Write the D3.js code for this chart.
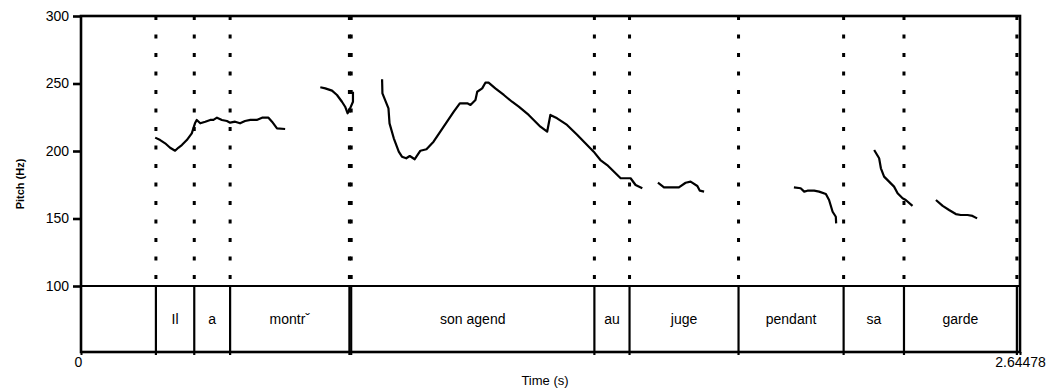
<!DOCTYPE html>
<html>
<head>
<meta charset="utf-8">
<script src="https://cdn.jsdelivr.net/npm/d3@7"></script>
<style>
  body{margin:0;background:#fff;}
  text{font-family:"Liberation Sans",Arial,sans-serif;}
</style>
</head>
<body>
<svg id="chart"></svg>
<script>
// time of the end of the sound (s)
var tMax = 2.64478;
var pitchTicks = [100,150,200,250,300];
var timeTicks = [0, tMax];

// word boundaries (s) and the words between them
var boundaries = [0.211,0.319,0.420,0.756,0.761,1.446,1.545,1.852,2.148,2.318,2.636];
var words = ["","Il","a","montr\u02c7","","son agend","au","juge","pendant","sa","garde",""];

// pitch track pieces: [time (s), pitch (Hz)]
var pitchIlA = [[0.209,209.9],[0.223,208.1],[0.237,205.7],[0.251,202.4],[0.265,200.2],[0.274,202.4],[0.284,204.4],[0.298,208.1],[0.312,213.1],[0.321,220.5],[0.326,223.0],[0.336,220.5],[0.350,221.7],[0.364,223.0],[0.373,223.0],[0.383,224.7],[0.397,223.0],[0.411,222.2],[0.420,221.0],[0.434,221.7],[0.448,220.5],[0.462,222.2],[0.477,223.0],[0.495,223.0],[0.510,224.7],[0.528,224.7],[0.538,221.7],[0.552,216.8],[0.575,216.3]];
var pitchMontre = [[0.674,247.2],[0.688,246.4],[0.707,244.7],[0.721,241.5],[0.735,236.5],[0.744,232.8],[0.751,227.9],[0.758,231.6],[0.766,236.5],[0.766,243.9]];
var pitchAgenda = [[0.848,253.1],[0.849,242.7],[0.866,231.6],[0.869,220.5],[0.881,209.4],[0.895,199.5],[0.904,195.8],[0.916,194.6],[0.926,196.3],[0.940,193.9],[0.956,200.2],[0.973,201.3],[0.993,206.9],[1.012,214.3],[1.031,221.7],[1.050,229.1],[1.067,235.3],[1.088,235.3],[1.097,234.1],[1.111,237.8],[1.116,243.9],[1.130,246.4],[1.139,250.6],[1.148,250.6],[1.167,246.4],[1.191,241.5],[1.214,236.5],[1.233,232.8],[1.261,226.7],[1.294,218.0],[1.313,214.3],[1.322,226.7],[1.341,224.2],[1.369,219.3],[1.398,211.9],[1.444,199.5],[1.463,193.3],[1.482,189.6],[1.520,179.8],[1.548,179.8],[1.562,174.8],[1.581,172.4]];
var pitchJuge = [[1.625,176.5],[1.642,173.1],[1.684,173.1],[1.703,176.5],[1.717,177.3],[1.736,174.1],[1.743,170.6],[1.755,169.9]];
var pitchPendant = [[2.008,173.1],[2.027,172.4],[2.037,169.9],[2.046,170.6],[2.065,170.6],[2.079,169.9],[2.098,168.1],[2.107,163.7],[2.117,155.0],[2.126,151.3],[2.127,146.4]];
var pitchSa = [[2.234,200.7],[2.248,194.6],[2.253,187.2],[2.262,181.0],[2.276,177.3],[2.290,173.6],[2.300,168.7],[2.314,165.0],[2.323,163.7],[2.342,159.3]];
var pitchGarde = [[2.408,163.7],[2.427,159.3],[2.445,156.3],[2.464,153.3],[2.478,152.6],[2.497,152.6],[2.511,151.9],[2.524,150.1]];

var width = 1050, height = 389;
var margin = {top:16, left:81, right:30, tier:66};
var plotBottom = 286;               // y of 100 Hz
var tierBottom = plotBottom + margin.tier;

var svg = d3.select("#chart").attr("width",width).attr("height",height);

var xScale = d3.scaleLinear().domain([0,tMax]).range([margin.left,width-margin.right]);
var yScale = d3.scaleLinear().domain([100,300]).range([plotBottom,margin.top]);

// dotted word boundaries over the pitch area
svg.append("g").selectAll("line")
  .data(boundaries)
  .enter().append("line")
  .attr("x1",function(d){return xScale(d);})
  .attr("x2",function(d){return xScale(d);})
  .attr("y1",margin.top)
  .attr("y2",plotBottom)
  .attr("stroke","#000")
  .attr("stroke-width",3)
  .attr("stroke-dasharray","4,14.5");

// tier boundaries
svg.append("g").selectAll("line")
  .data(boundaries)
  .enter().append("line")
  .attr("x1",function(d){return xScale(d);})
  .attr("x2",function(d){return xScale(d);})
  .attr("y1",plotBottom)
  .attr("y2",tierBottom+3)
  .attr("stroke","#000")
  .attr("stroke-width",2.2);

// words
var edges = [0].concat(boundaries).concat([tMax]);
svg.append("g").selectAll("text")
  .data(words)
  .enter().append("text")
  .attr("x",function(d,i){return (xScale(edges[i])+xScale(edges[i+1]))/2;})
  .attr("y",(plotBottom+tierBottom)/2)
  .attr("dy","0.35em")
  .attr("text-anchor","middle")
  .style("font-size","14px")
  .text(function(d){return d;});

// frame
svg.append("rect")
  .attr("x",margin.left).attr("y",margin.top)
  .attr("width",xScale(tMax)-margin.left)
  .attr("height",tierBottom-margin.top)
  .attr("fill","none").attr("stroke","#000").attr("stroke-width",2.6);
svg.append("line")
  .attr("x1",margin.left).attr("x2",xScale(tMax))
  .attr("y1",plotBottom).attr("y2",plotBottom)
  .attr("stroke","#000").attr("stroke-width",2.2);

// pitch track
var lineMaker = d3.line()
  .x(function(d){return xScale(d[0]);})
  .y(function(d){return yScale(d[1]);});
[pitchIlA,pitchMontre,pitchAgenda,pitchJuge,pitchPendant,pitchSa,pitchGarde].forEach(function(piece){
  svg.append("path")
    .attr("d",lineMaker(piece))
    .attr("fill","none")
    .attr("stroke","#000")
    .attr("stroke-width",2.2)
    .attr("stroke-linejoin","round");
});

// axes
var yAxis = d3.axisLeft(yScale).tickValues(pitchTicks).tickSize(8).tickPadding(4);
var gy = svg.append("g").attr("transform","translate("+margin.left+",0)").call(yAxis);
gy.select(".domain").remove();
gy.selectAll(".tick line").attr("stroke-width",2.6);
gy.selectAll("text").style("font-size","14px").attr("fill","#000").attr("font-family",null);

var xAxis = d3.axisBottom(xScale).tickValues(timeTicks).tickSize(3).tickPadding(2)
  .tickFormat(function(d){return d===0?"0":String(d);});
var gx = svg.append("g").attr("transform","translate(0,"+tierBottom+")").call(xAxis);
gx.select(".domain").remove();
gx.selectAll(".tick line").attr("stroke-width",2);
gx.selectAll("text").style("font-size","14px").attr("fill","#000").attr("font-family",null);
gx.selectAll(".tick").filter(function(d){return d===0;}).select("text").attr("dx",-3);

svg.append("text")
  .attr("x",545).attr("y",385)
  .attr("text-anchor","middle")
  .style("font-size","13px")
  .text("Time (s)");

svg.append("text")
  .attr("transform","translate(24,184) rotate(-90)")
  .attr("text-anchor","middle")
  .style("font-size","11px")
  .style("font-weight","bold")
  .text("Pitch (Hz)");
</script>
</body>
</html>
